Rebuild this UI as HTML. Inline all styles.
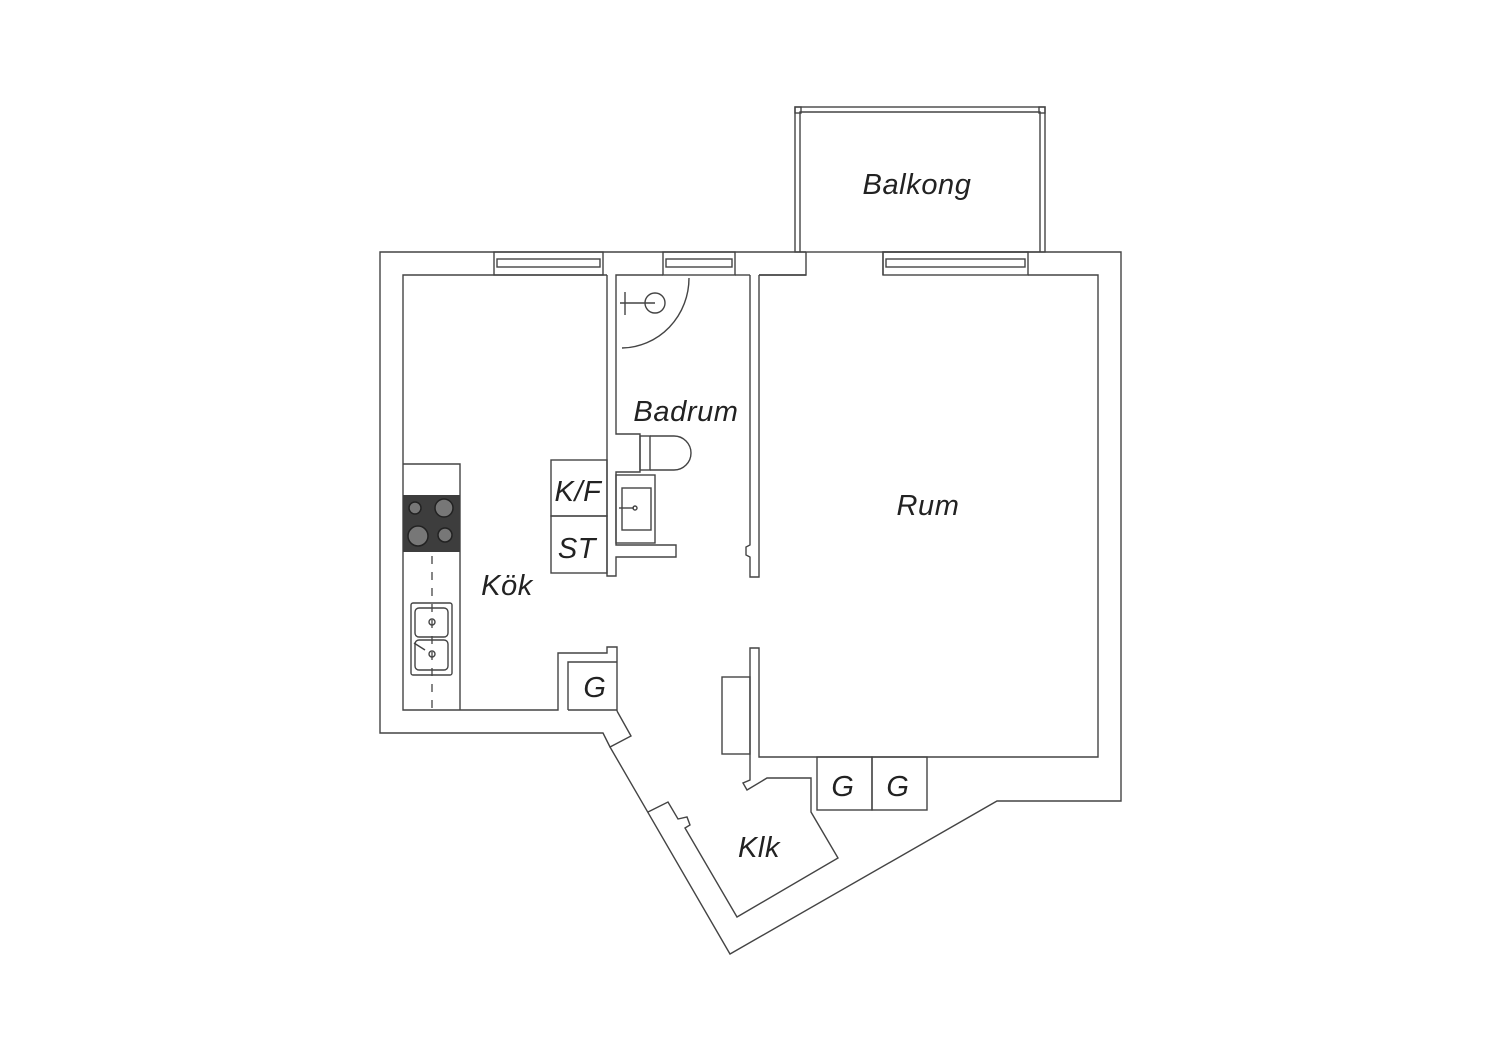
<!DOCTYPE html>
<html><head><meta charset="utf-8"><style>
html,body{margin:0;padding:0;background:#fff;}
svg{display:block;}
text{font-family:"Liberation Sans",sans-serif;font-style:italic;fill:#222;letter-spacing:0.6px;}
</style></head><body>
<svg width="1500" height="1060" viewBox="0 0 1500 1060" xmlns="http://www.w3.org/2000/svg">
<g fill="none" stroke="#444" stroke-width="1.4" stroke-linejoin="miter">
<rect x="795" y="107" width="250" height="145"/>
<polyline points="800,252 800,112 1040,112 1040,252"/>
<rect x="795" y="107" width="6" height="6"/>
<rect x="1039" y="107" width="6" height="6"/>
<polyline points="806,252 380,252 380,733 603,733 610,747 631,736 617,711"/>
<polyline points="610,747 730,954 997,801 1121,801 1121,252 883,252 883,275"/>
<polyline points="806,252 806,275 759,275"/>
<rect x="494" y="252" width="109" height="23"/>
<rect x="497" y="259" width="103" height="8"/>
<rect x="663" y="252" width="72" height="23"/>
<rect x="666" y="259" width="66" height="8"/>
<rect x="883" y="252" width="145" height="23"/>
<rect x="886" y="259" width="139" height="8"/>
<polyline points="607,275 403,275 403,710 558,710 558,653 607,653 607,647 617,647 617,711"/>
<polyline points="568,710 568,662 617,662"/>
<line x1="568" y1="710" x2="617" y2="710"/>
<polyline points="607,275 607,576 616,576 616,557 676,557 676,545 616,545 616,472 640,472 640,434 616,434 616,275 663,275"/>
<line x1="735" y1="275" x2="750" y2="275"/>
<polyline points="750,275 750,545 746,547 746,555 750,557 750,577 759,577 759,275"/>
<polyline points="759,275 806,275"/>
<polyline points="1028,275 1098,275 1098,757 759,757 759,648 750,648 750,780 743,783 747,790 767,778 811,778 811,812 838,858 737,917 685,828 690,825 687,817 678,819 668,802 648,812"/>
<rect x="722" y="677" width="28" height="77"/>
<rect x="817" y="757" width="55" height="53"/>
<rect x="872" y="757" width="55" height="53"/>
<rect x="551" y="460" width="56" height="56"/>
<rect x="551" y="516" width="56" height="57"/>
<rect x="640" y="436" width="10" height="34"/>
<path d="M650,436 L674,436 A17,17 0 0 1 674,470 L650,470"/>
<rect x="616" y="475" width="39" height="68"/>
<rect x="622" y="488" width="29" height="42"/>
<line x1="619" y1="508" x2="634" y2="508"/>
<circle cx="635" cy="508" r="2"/>
<circle cx="655" cy="303" r="10"/>
<line x1="620" y1="303" x2="655" y2="303"/>
<line x1="625" y1="292" x2="625" y2="315"/>
<path d="M689,278 A68,70 0 0 1 622,348"/>
<polyline points="403,464 460,464 460,710"/>
<rect x="411" y="603" width="41" height="72" rx="2"/>
<rect x="415" y="608" width="33" height="29" rx="4"/>
<rect x="415" y="640" width="33" height="30" rx="4"/>
<circle cx="432" cy="622" r="3"/>
<circle cx="432" cy="654" r="3"/>
<line x1="414" y1="643" x2="425" y2="650"/>
</g>
<line x1="432" y1="556" x2="432" y2="710" stroke="#444" stroke-width="1.3" stroke-dasharray="8,8"/>
<rect x="403" y="495" width="57" height="57" fill="#3d3d3d"/>
<g stroke="#222" stroke-width="1.5" fill="#777">
<circle cx="415" cy="508" r="6"/><circle cx="444" cy="508" r="9"/>
<circle cx="418" cy="536" r="10"/><circle cx="445" cy="535" r="7"/>
</g>
<g font-size="29">
<text x="917" y="194" text-anchor="middle">Balkong</text>
<text x="686" y="421" text-anchor="middle">Badrum</text>
<text x="928" y="515" text-anchor="middle">Rum</text>
<text x="507" y="595" text-anchor="middle">Kök</text>
<text x="759" y="857" text-anchor="middle">Klk</text>
<text x="595" y="697" text-anchor="middle">G</text>
<text x="843" y="796" text-anchor="middle">G</text>
<text x="898" y="796" text-anchor="middle">G</text>
<text x="578" y="501" text-anchor="middle">K/F</text>
<text x="577" y="558" text-anchor="middle">ST</text>
</g>
</svg>
</body></html>
